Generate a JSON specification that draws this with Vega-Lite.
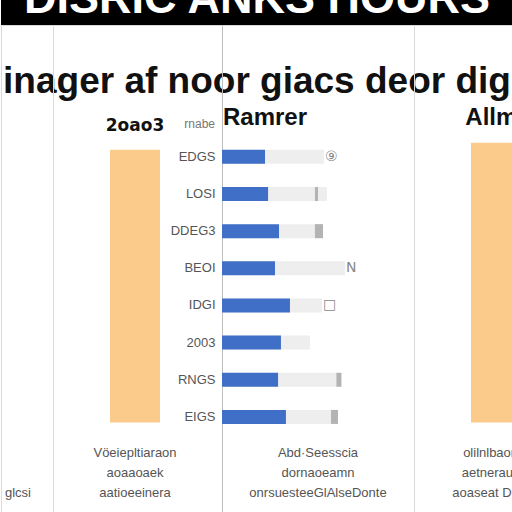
{
  "$schema": "https://vega.github.io/schema/vega-lite/v6.json",
  "padding": 0,
  "background": "white",
  "spacing": 0,
  "bounds": "flush",
  "config": {
    "view": {"stroke": "#dadada"},
    "text": {"font": "Liberation Sans"}
  },
  "vconcat": [
    {
      "width": 512,
      "height": 25,
      "view": {"fill": "black", "stroke": null},
      "data": {"values": [{"title": "DISRIC ANKS HOURS", "subtitle": "inager af noor giacs deor dig"}]},
      "layer": [
        {
          "mark": {"type": "text", "clip": true, "fontWeight": "bold", "fontSize": 45, "color": "white", "baseline": "alphabetic", "dy": 0},
          "encoding": {"text": {"field": "title"}}
        },
        {
          "mark": {"type": "text", "fontWeight": "bold", "fontSize": 37, "color": "#111111", "baseline": "alphabetic", "dy": 80},
          "encoding": {"text": {"field": "subtitle"}}
        }
      ]
    },
    {
      "hconcat": [
        {
          "width": 52,
          "height": 497,
          "data": {"values": [{"note": "glcsi"}]},
          "mark": {"type": "text", "fontSize": 13, "color": "#555555", "baseline": "top", "dy": 33, "dx": -9},
          "encoding": {
            "y": {"datum": "foot", "type": "nominal", "axis": null,
              "scale": {"type": "band", "domain": ["title", "head", "EDGS", "LOSI", "DDEG3", "BEOI", "IDGI", "2003", "RNGS", "EIGS", "foot", "end"], "paddingInner": 0.623, "paddingOuter": 1, "align": 0.68}},
            "text": {"field": "note"}
          }
        },
        {
          "width": 169,
          "height": 497,
          "data": {"values": [{"item": "2oao3", "hours": 54.9, "note": "Vöeiepltiaraon\naoaaoaek\naatioeeinera"}]},
          "encoding": {
            "x": {"field": "item", "type": "nominal", "axis": null, "scale": {"type": "band", "paddingInner": 0, "paddingOuter": 1, "align": 0.478}}
          },
          "layer": [
            {
              "mark": {"type": "bar", "color": "#fbcb8b", "width": 50},
              "encoding": {"y": {"field": "hours", "type": "quantitative", "axis": null, "scale": {"domain": [-20, 80]}}}
            },
            {
              "mark": {"type": "text", "font": "DejaVu Sans", "fontWeight": "bold", "fontSize": 17, "color": "#111111", "dy": 6},
              "encoding": {
                "y": {"datum": "head", "type": "nominal", "axis": null,
                  "scale": {"type": "band", "domain": ["title", "head", "EDGS", "LOSI", "DDEG3", "BEOI", "IDGI", "2003", "RNGS", "EIGS", "foot", "end"], "paddingInner": 0.623, "paddingOuter": 1, "align": 0.68}},
                "text": {"field": "item"}
              }
            },
            {
              "mark": {"type": "text", "fontSize": 13, "color": "#555555", "baseline": "top", "lineBreak": "\n", "lineHeight": 20, "dy": -7},
              "encoding": {
                "y": {"datum": "foot", "type": "nominal", "axis": null,
                  "scale": {"type": "band", "domain": ["title", "head", "EDGS", "LOSI", "DDEG3", "BEOI", "IDGI", "2003", "RNGS", "EIGS", "foot", "end"], "paddingInner": 0.623, "paddingOuter": 1, "align": 0.68}},
                "text": {"field": "note"}
              }
            }
          ],
          "resolve": {"scale": {"y": "independent"}}
        },
        {
          "width": 192,
          "height": 497,
          "data": {"values": [
            {"label": "EDGS", "value": 22.4, "total": 53.1, "icon": "⑨"},
            {"label": "LOSI", "value": 24.0, "total": 54.7, "m0": 48.4, "m1": 50.0},
            {"label": "DDEG3", "value": 29.7, "total": 52.6, "m0": 48.4, "m1": 52.6},
            {"label": "BEOI", "value": 27.6, "total": 64.1, "icon": "N"},
            {"label": "IDGI", "value": 35.4, "total": 52.1, "icon": "□"},
            {"label": "2003", "value": 30.7, "total": 45.8},
            {"label": "RNGS", "value": 29.2, "total": 60.4, "m0": 59.6, "m1": 62.2},
            {"label": "EIGS", "value": 33.3, "total": 60.4, "m0": 56.8, "m1": 60.4}
          ]},
          "encoding": {
            "y": {
              "field": "label",
              "type": "nominal",
              "scale": {"type": "band", "domain": ["title", "head", "EDGS", "LOSI", "DDEG3", "BEOI", "IDGI", "2003", "RNGS", "EIGS", "foot", "end"], "paddingInner": 0.623, "paddingOuter": 1, "align": 0.68},
              "axis": {
                "title": null,
                "ticks": false,
                "grid": false,
                "domainColor": "#bdbdbd",
                "labelPadding": 7,
                "labelFont": "Liberation Sans",
                "labelFontSize": 13,
                "labelColor": "#555555",
                "labelExpr": "indexof(['title', 'head', 'foot', 'end'], datum.value) >= 0 ? '' : datum.value"
              }
            }
          },
          "layer": [
            {
              "mark": {"type": "bar", "color": "#eeeeee"},
              "encoding": {"x": {"field": "total", "type": "quantitative", "axis": null, "scale": {"domain": [0, 100]}}}
            },
            {
              "transform": [{"filter": "isValid(datum.m0)"}],
              "mark": {"type": "bar", "color": "#b3b3b3"},
              "encoding": {
                "x": {"field": "m0", "type": "quantitative"},
                "x2": {"field": "m1"}
              }
            },
            {
              "mark": {"type": "bar", "color": "#3f6fc6"},
              "encoding": {"x": {"field": "value", "type": "quantitative"}}
            },
            {
              "transform": [{"filter": "isValid(datum.icon)"}],
              "mark": {"type": "text", "font": "DejaVu Sans", "fontSize": 14, "color": "#888888", "align": "left", "dx": 1},
              "encoding": {
                "x": {"field": "total", "type": "quantitative"},
                "text": {"field": "icon"}
              }
            },
            {
              "data": {"values": [{"head": "Ramrer", "sub": "rnabe", "note": "Abd·Seesscia\ndornaoeamn\nonrsuesteeGlAlseDonte"}]},
              "layer": [
                {
                  "mark": {"type": "text", "fontWeight": "bold", "fontSize": 24, "color": "#111111", "align": "left", "dx": 1, "dy": -2},
                  "encoding": {
                    "x": {"datum": 0, "type": "quantitative"},
                    "y": {"datum": "head", "type": "nominal"},
                    "text": {"field": "head"}
                  }
                },
                {
                  "mark": {"type": "text", "fontSize": 12, "color": "#777777", "align": "right", "dx": -7, "dy": 4},
                  "encoding": {
                    "x": {"datum": 0, "type": "quantitative"},
                    "y": {"datum": "head", "type": "nominal"},
                    "text": {"field": "sub"}
                  }
                },
                {
                  "mark": {"type": "text", "fontSize": 13, "color": "#555555", "baseline": "top", "lineBreak": "\n", "lineHeight": 20, "dy": -7},
                  "encoding": {
                    "y": {"datum": "foot", "type": "nominal"},
                    "text": {"field": "note"}
                  }
                }
              ]
            }
          ]
        },
        {
          "width": 120,
          "height": 497,
          "data": {"values": [{"item": "Allmr", "hours": 56.3, "note": "olilnlbaorsn\naetnerauion\naoaseat Dlomn"}]},
          "encoding": {
            "x": {"field": "item", "type": "nominal", "axis": null, "scale": {"type": "band", "paddingInner": 0, "paddingOuter": 1, "align": 0.775}}
          },
          "layer": [
            {
              "mark": {"type": "bar", "color": "#fbcb8b", "width": 50},
              "encoding": {"y": {"field": "hours", "type": "quantitative", "axis": null, "scale": {"domain": [-20, 80]}}}
            },
            {
              "mark": {"type": "text", "fontWeight": "bold", "fontSize": 24, "color": "#111111", "dy": -2},
              "encoding": {
                "y": {"datum": "head", "type": "nominal", "axis": null,
                  "scale": {"type": "band", "domain": ["title", "head", "EDGS", "LOSI", "DDEG3", "BEOI", "IDGI", "2003", "RNGS", "EIGS", "foot", "end"], "paddingInner": 0.623, "paddingOuter": 1, "align": 0.68}},
                "text": {"field": "item"}
              }
            },
            {
              "mark": {"type": "text", "fontSize": 13, "color": "#555555", "baseline": "top", "lineBreak": "\n", "lineHeight": 20, "dy": -7},
              "encoding": {
                "y": {"datum": "foot", "type": "nominal", "axis": null,
                  "scale": {"type": "band", "domain": ["title", "head", "EDGS", "LOSI", "DDEG3", "BEOI", "IDGI", "2003", "RNGS", "EIGS", "foot", "end"], "paddingInner": 0.623, "paddingOuter": 1, "align": 0.68}},
                "text": {"field": "note"}
              }
            }
          ],
          "resolve": {"scale": {"y": "independent"}}
        }
      ],
      "spacing": 0,
      "bounds": "flush"
    }
  ]
}
